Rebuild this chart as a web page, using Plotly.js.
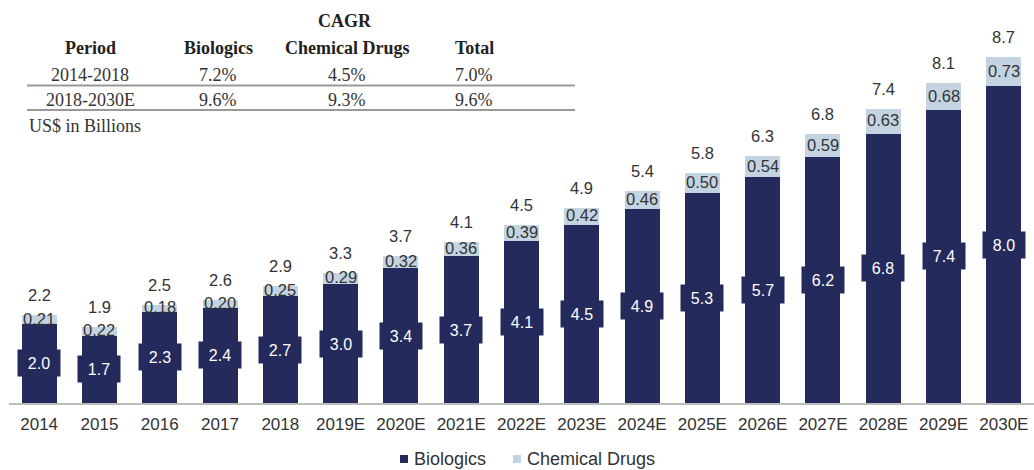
<!DOCTYPE html>
<html>
<head>
<meta charset="utf-8">
<script src="https://cdn.plot.ly/plotly-3.0.1.min.js"></script>
<style>html,body{margin:0;padding:0;background:#fff;}#chart{width:1034px;height:470px;}</style>
</head>
<body>
<div id="chart"></div>
<script>
var years = ["2014","2015","2016","2017","2018","2019E","2020E","2021E","2022E","2023E","2024E","2025E","2026E","2027E","2028E","2029E","2030E"];
var biologics = [2.0,1.7,2.3,2.4,2.7,3.0,3.4,3.7,4.1,4.5,4.9,5.3,5.7,6.2,6.8,7.4,8.0];
var chemical = [0.21,0.22,0.18,0.20,0.25,0.29,0.32,0.36,0.39,0.42,0.46,0.50,0.54,0.59,0.63,0.68,0.73];
var totals = [2.2,1.9,2.5,2.6,2.9,3.3,3.7,4.1,4.5,4.9,5.4,5.8,6.3,6.8,7.4,8.1,8.7];
var seriesNames = ["Biologics","Chemical Drugs"];

var tableTitle = "CAGR";
var tableHeader = ["Period","Biologics","Chemical Drugs","Total"];
var tableRows = [
  ["2014-2018","7.2%","4.5%","7.0%"],
  ["2018-2030E","9.6%","9.3%","9.6%"]
];
var unitNote = "US$ in Billions";

var W = 1034, H = 470;
var M = {l: 9, r: 0, t: 10, b: 67};
var PW = W - M.l - M.r, PH = H - M.t - M.b;
function px(x){ return (x - M.l) / PW; }
function py(y){ return (H - M.b - y) / PH; }

var navy = '#252a5c', light = '#c4d3e2', txt = '#333333';
var colors = [navy, light];
var sans = 'Liberation Sans, Arial, sans-serif';
var serif = 'Liberation Serif, Times New Roman, serif';

var x = years.map(function(_, i){ return i; });

var traces = [
  {type:'bar', name:seriesNames[0], x:x, y:biologics, marker:{color:navy, line:{width:0}}, width:0.58, hoverinfo:'skip', showlegend:false},
  {type:'bar', name:seriesNames[1], x:x, y:chemical, marker:{color:light, line:{width:0}}, width:0.58, hoverinfo:'skip', showlegend:false}
];

var ann = [];
x.forEach(function(i){
  ann.push({x:i, y:biologics[i]/2, xref:'x', yref:'y', text:biologics[i].toFixed(1), showarrow:false,
    font:{family:sans, size:16, color:'#ffffff'}, bgcolor:navy, width:40, height:24, borderpad:1, yanchor:'middle'});
  ann.push({x:i, y:biologics[i] + chemical[i]/2, xref:'x', yref:'y', text:chemical[i].toFixed(2), showarrow:false,
    font:{family:sans, size:16.5, color:txt}, yanchor:'middle', yshift:1});
  ann.push({x:i, y:biologics[i] + chemical[i], xref:'x', yref:'y', text:totals[i].toFixed(1), showarrow:false,
    font:{family:sans, size:16.5, color:txt}, yanchor:'middle', yshift:20});
});

// table
var colX = [90, 218, 347, 474];
ann.push({x:px(345), y:py(21), xref:'paper', yref:'paper', text:'<b>'+tableTitle+'</b>', showarrow:false,
  font:{family:serif, size:18, color:'#222'}, xanchor:'center', yanchor:'middle'});
tableHeader.forEach(function(h, j){
  ann.push({x:px(colX[j]), y:py(48), xref:'paper', yref:'paper', text:'<b>'+h+'</b>', showarrow:false,
    font:{family:serif, size:18, color:'#222'}, xanchor:'center', yanchor:'middle'});
});
var rowY = [75, 100];
tableRows.forEach(function(r, k){
  r.forEach(function(c, j){
    ann.push({x:px(colX[j]), y:py(rowY[k]), xref:'paper', yref:'paper', text:c, showarrow:false,
      font:{family:serif, size:18, color:'#333'}, xanchor:'center', yanchor:'middle'});
  });
});
ann.push({x:px(27), y:py(126), xref:'paper', yref:'paper', text:unitNote, showarrow:false,
  font:{family:serif, size:18, color:'#333'}, xanchor:'left', yanchor:'middle'});

var shapes = [
  {type:'line', xref:'paper', yref:'paper', x0:px(27), x1:px(575), y0:py(85.5), y1:py(85.5), line:{color:'#999', width:2}},
  {type:'line', xref:'paper', yref:'paper', x0:px(27), x1:px(575), y0:py(110), y1:py(110), line:{color:'#999', width:2}}
];

// legend (manual, to match compact swatches)
var legX = [400, 513];
seriesNames.forEach(function(n, k){
  shapes.push({type:'rect', xref:'paper', yref:'paper', x0:px(legX[k]), x1:px(legX[k]+8), y0:py(455), y1:py(463),
    fillcolor:colors[k], line:{width:0}});
  ann.push({x:px(legX[k]+12), y:py(459), xref:'paper', yref:'paper', text:n, showarrow:false,
    font:{family:sans, size:18, color:txt}, xanchor:'left', yanchor:'middle'});
});

var layout = {
  width:W, height:H,
  margin:{l:M.l, r:M.r, t:M.t, b:M.b, pad:0},
  barmode:'stack',
  paper_bgcolor:'#fff', plot_bgcolor:'#fff',
  showlegend:false,
  xaxis:{range:[-0.5,16.5], tickmode:'array', tickvals:x, ticktext:years, showgrid:false, zeroline:false,
    showline:true, linecolor:'#bbbbbb', linewidth:2, ticks:'', ticklen:0, ticklabelstandoff:5,
    tickfont:{family:sans, size:17, color:txt}, fixedrange:true},
  yaxis:{range:[0, PH/39.6], visible:false, showgrid:false, zeroline:false, fixedrange:true},
  annotations:ann,
  shapes:shapes
};

Plotly.newPlot('chart', traces, layout, {displayModeBar:false, staticPlot:true});
</script>
</body>
</html>
